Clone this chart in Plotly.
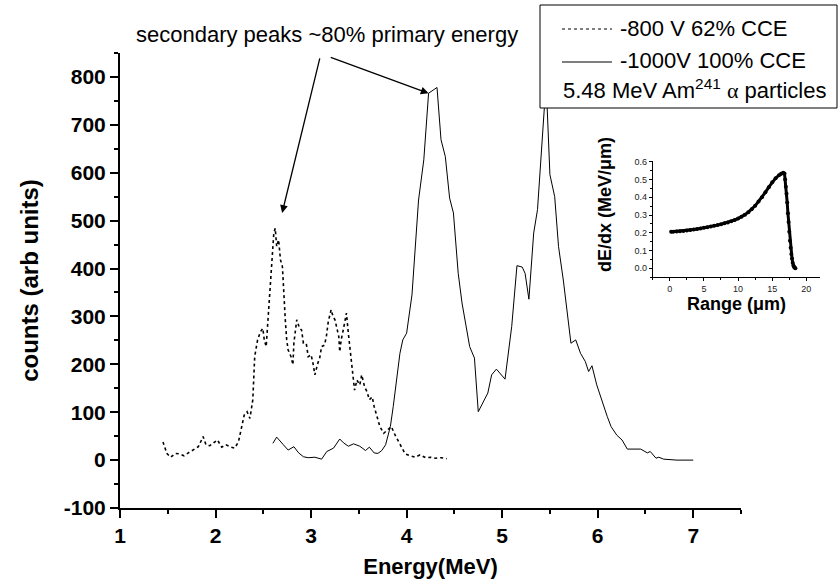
import plotly.graph_objects as go

# -800 V bias spectrum (62% CCE)
e_800 = [1.45, 1.49, 1.53, 1.58, 1.62, 1.67, 1.715, 1.77, 1.82, 1.87, 1.90, 1.94, 1.985, 2.02,
         2.065, 2.11, 2.16, 2.20, 2.24, 2.265, 2.30, 2.33, 2.36, 2.39, 2.41, 2.44, 2.47, 2.495,
         2.51, 2.53, 2.545, 2.565, 2.59, 2.61, 2.625, 2.64, 2.66, 2.68, 2.70, 2.72, 2.73, 2.745,
         2.76, 2.79, 2.81, 2.82, 2.85, 2.88, 2.90, 2.92, 2.95, 2.97, 3.00, 3.02, 3.04, 3.07,
         3.09, 3.11, 3.14, 3.16, 3.18, 3.21, 3.23, 3.25, 3.27, 3.29, 3.30, 3.315, 3.34, 3.37,
         3.39, 3.42, 3.44, 3.455, 3.48, 3.51, 3.53, 3.56, 3.585, 3.61, 3.64, 3.66, 3.69, 3.72,
         3.76, 3.80, 3.84, 3.88, 3.93, 3.985, 4.04, 4.09, 4.14, 4.20, 4.25, 4.30, 4.36, 4.42]
c_800 = [38, 14, 6, 14, 13, 9, 15, 21, 28, 49, 32, 30, 36, 42,
         27, 32, 27, 25, 38, 63, 94, 101, 87, 126, 216, 251, 268, 275,
         251, 237, 279, 335, 418, 474, 484, 446, 460, 418, 404, 314, 293, 251,
         230, 216, 199, 244, 293, 275, 272, 244, 243, 216, 220, 202, 178, 202,
         213, 237, 240, 258, 289, 314, 300, 293, 275, 258, 226, 251, 275, 307,
         265, 216, 181, 146, 167, 157, 178, 153, 143, 126, 132, 112, 91, 70,
         56, 63, 70, 52, 32, 13, 9, 6, 11, 5, 6, 4, 5, 3]

# -1000 V bias spectrum (100% CCE)
e_1000 = [2.60, 2.64, 2.71, 2.76, 2.82, 2.87, 2.92, 2.97, 3.04, 3.11, 3.165, 3.235, 3.30, 3.34,
          3.39, 3.445, 3.51, 3.57, 3.61, 3.66, 3.70, 3.74, 3.78, 3.83, 3.86, 3.90, 3.93, 3.96,
          4.00, 4.056, 4.125, 4.18, 4.23, 4.318, 4.36, 4.405, 4.45, 4.49, 4.54, 4.58, 4.66, 4.71,
          4.75, 4.85, 4.89, 4.94, 5.03, 5.10, 5.155, 5.21, 5.24, 5.28, 5.33, 5.37, 5.42, 5.46,
          5.50, 5.55, 5.59, 5.64, 5.72, 5.77, 5.82, 5.87, 5.905, 5.94, 5.99, 6.05, 6.10, 6.14,
          6.20, 6.255, 6.31, 6.45, 6.52, 6.55, 6.61, 6.64, 6.69, 6.83, 7.00]
c_1000 = [35, 48, 32, 21, 28, 15, 7, 5, 6, 2, 18, 25, 44, 36,
          29, 34, 29, 20, 27, 15, 14, 20, 32, 70, 112, 174, 223, 251,
          265, 345, 543, 627, 766, 778, 669, 634, 547, 516, 390, 328, 237, 213,
          101, 140, 178, 190, 169, 279, 406, 403, 390, 336, 474, 523, 676, 790,
          596, 550, 446, 376, 244, 251, 223, 206, 185, 197, 157, 119, 91, 70,
          52, 42, 23, 23, 15, 18, 4, 6, 2, 0, 0]

# Bragg curve of the alpha particle (inset)
rng_um = [0.2, 0.5, 1.0, 1.5, 2.0, 2.5, 3.0, 3.5, 4.0, 4.5, 5.0, 5.5, 6.0, 6.5, 7.0, 7.5,
          8.0, 8.5, 9.0, 9.5, 10.0, 10.5, 11.0, 11.5, 12.0, 12.5, 13.0, 13.5, 14.0, 14.5,
          15.0, 15.5, 16.0, 16.3, 16.6, 16.8, 16.9, 17.0, 17.1, 17.2, 17.3, 17.4, 17.5,
          17.6, 17.7, 17.8, 17.9, 18.0, 18.1, 18.2, 18.3, 18.4]
dedx = [0.205, 0.206, 0.207, 0.208, 0.210, 0.212, 0.215, 0.218, 0.221, 0.224, 0.228, 0.231,
        0.235, 0.239, 0.243, 0.248, 0.253, 0.258, 0.265, 0.272, 0.280, 0.290, 0.302, 0.316,
        0.332, 0.352, 0.377, 0.400, 0.428, 0.457, 0.485, 0.508, 0.525, 0.533, 0.538, 0.535,
        0.500, 0.460, 0.420, 0.370, 0.310, 0.260, 0.205, 0.155, 0.115, 0.080, 0.055, 0.030,
        0.015, 0.006, 0.002, 0.0]

x_ticks = [1, 2, 3, 4, 5, 6, 7]
y_ticks = [-100, 0, 100, 200, 300, 400, 500, 600, 700, 800]
inset_x_ticks = [0, 5, 10, 15, 20]
inset_y_ticks = [0.0, 0.1, 0.2, 0.3, 0.4, 0.5, 0.6]

FONT = "Arial, 'Liberation Sans', sans-serif"

fig = go.Figure()
fig.add_trace(go.Scatter(x=e_800, y=c_800, mode="lines", name="-800 V 62% CCE",
                         line=dict(color="black", width=1.6, dash="dot"),
                         showlegend=False, xaxis="x", yaxis="y"))
fig.add_trace(go.Scatter(x=e_1000, y=c_1000, mode="lines", name="-1000V 100% CCE",
                         line=dict(color="black", width=1.0),
                         showlegend=False, xaxis="x", yaxis="y"))
fig.add_trace(go.Scatter(x=rng_um, y=dedx, mode="lines+markers",
                         line=dict(color="black", width=3),
                         marker=dict(color="black", size=4),
                         showlegend=False, xaxis="x2", yaxis="y2"))

W, H = 840, 586
L, R, T, B = 120, 20, 5, 78
pw, ph = W - L - R, H - T - B


def px(xp):
    return (xp - L) / pw


def py(yp):
    return (H - B - yp) / ph


axis_common = dict(showline=True, linecolor="black", showgrid=False, zeroline=False,
                   ticks="outside", tickcolor="black", automargin=False)

fig.update_layout(
    width=W, height=H, autosize=False,
    margin=dict(l=L, r=R, t=T, b=B),
    paper_bgcolor="white", plot_bgcolor="white",
    font=dict(family=FONT, color="black"),
    xaxis=dict(domain=[0, px(741)], range=[1, 7.5], anchor="y",
               tickmode="array", tickvals=x_ticks,
               ticktext=[f"<b>{v}</b>" for v in x_ticks],
               ticklen=8, tickwidth=1.5, linewidth=2,
               tickfont=dict(size=21, family=FONT),
               minor=dict(dtick=0.5, ticklen=4, tickwidth=1.5, ticks="outside", tickcolor="black"),
               title=dict(text="<b>Energy(MeV)</b>", font=dict(size=22), standoff=12),
               **axis_common),
    yaxis=dict(domain=[0, py(53)], range=[-100, 850], anchor="x",
               tickmode="array", tickvals=y_ticks,
               ticktext=[f"<b>{v}</b>" for v in y_ticks],
               ticklen=8, tickwidth=1.5, linewidth=2,
               tickfont=dict(size=21, family=FONT),
               minor=dict(dtick=50, tick0=-100, ticklen=4, tickwidth=1.5, ticks="outside",
                          tickcolor="black"),
               title=dict(text="<b>counts (arb units)</b>", font=dict(size=24), standoff=18),
               **axis_common),
    xaxis2=dict(domain=[px(652.7), 1.0], range=[-2.5, 22], anchor="y2",
                tickmode="array", tickvals=inset_x_ticks, ticklen=3, linewidth=1,
                tickfont=dict(size=9, color="#222"),
                minor=dict(dtick=2.5, ticklen=2, ticks="outside", tickcolor="black"),
                **axis_common),
    yaxis2=dict(domain=[py(277), py(161)], range=[-0.05, 0.605], anchor="x2",
                tickmode="array", tickvals=inset_y_ticks, tickformat=".1f", ticklen=3,
                linewidth=1, tickfont=dict(size=9, color="#222"),
                minor=dict(dtick=0.05, tick0=0, ticklen=2, ticks="outside", tickcolor="black"),
                **axis_common),
)

# Legend box drawn in paper coordinates
shapes = [
    dict(type="rect", xref="paper", yref="paper", x0=px(540), x1=px(837), y0=py(108), y1=py(5),
         fillcolor="white", line=dict(color="black", width=1), layer="above"),
    dict(type="line", xref="paper", yref="paper", x0=px(562), x1=px(612), y0=py(29), y1=py(29),
         line=dict(color="black", width=1.2, dash="dot"), layer="above"),
    dict(type="line", xref="paper", yref="paper", x0=px(562), x1=px(612), y0=py(62), y1=py(62),
         line=dict(color="black", width=1), layer="above"),
]
fig.update_layout(shapes=shapes)

annotations = [
    dict(xref="paper", yref="paper", x=px(618), y=py(28), xanchor="left", yanchor="middle",
         text="-800 V 62% CCE", showarrow=False, font=dict(size=22)),
    dict(xref="paper", yref="paper", x=px(618), y=py(61), xanchor="left", yanchor="middle",
         text="-1000V 100% CCE", showarrow=False, font=dict(size=22)),
    dict(xref="paper", yref="paper", x=px(561), y=py(89), xanchor="left", yanchor="middle",
         text="5.48 MeV Am<sup>241</sup> <span style=\"font-family:'Liberation Serif'\">\u03b1</span> particles",
         showarrow=False, font=dict(size=22)),
    dict(xref="paper", yref="paper", x=px(327), y=py(35), xanchor="center", yanchor="middle",
         text="secondary peaks ~80% primary energy", showarrow=False, font=dict(size=22)),
    # inset axis titles
    dict(xref="paper", yref="paper", x=px(605), y=py(205), xanchor="center", yanchor="middle",
         text="<b>dE/dx (MeV/\u03bcm)</b>", textangle=-90, showarrow=False, font=dict(size=18)),
    dict(xref="paper", yref="paper", x=px(736), y=py(304), xanchor="center", yanchor="middle",
         text="<b>Range (\u03bcm)</b>", showarrow=False, font=dict(size=18)),
    # arrows pointing at the secondary peaks
    dict(xref="x", yref="y", axref="x", ayref="y", x=2.697, y=516, ax=3.095, ay=842,
         text="", showarrow=True, arrowhead=2, arrowsize=1.2, arrowwidth=1.3,
         arrowcolor="black", standoff=0),
    dict(xref="x", yref="y", axref="x", ayref="y", x=4.23, y=766, ax=3.19, ay=842,
         text="", showarrow=True, arrowhead=2, arrowsize=1.2, arrowwidth=1.3,
         arrowcolor="black", standoff=0),
]
fig.update_layout(annotations=annotations)

fig.write_html("out.html")
